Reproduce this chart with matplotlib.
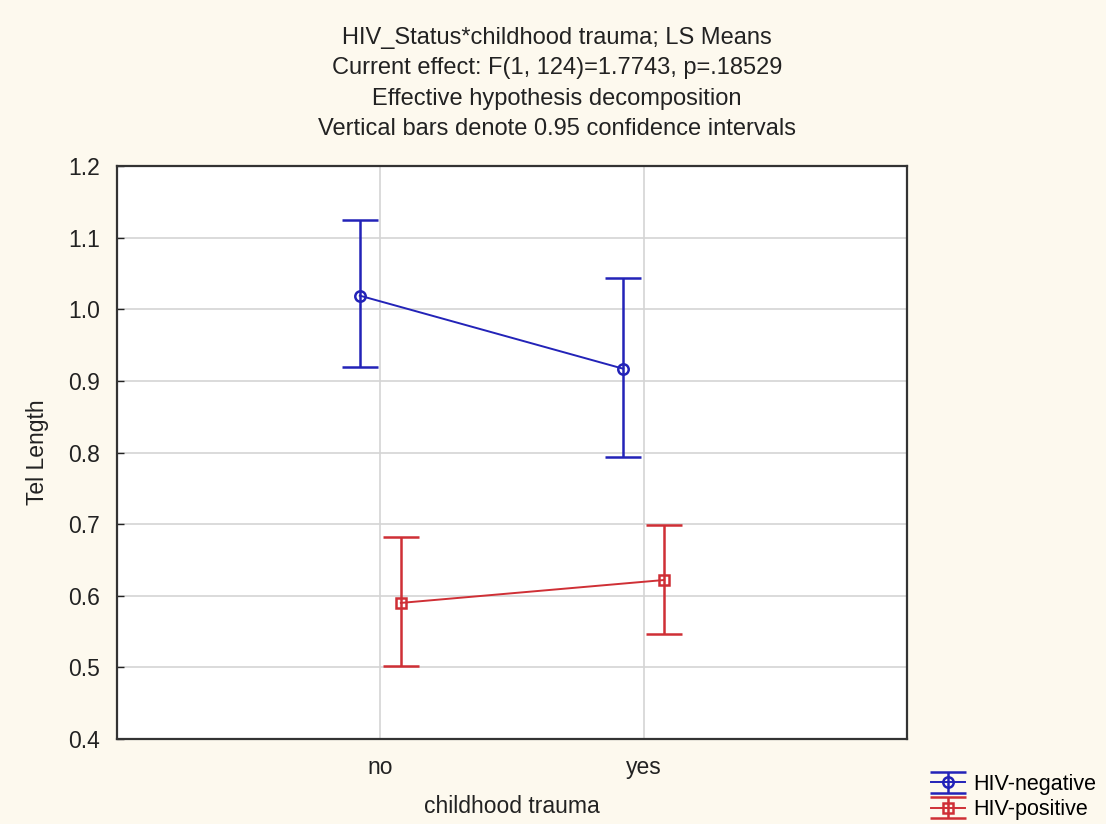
import numpy as np
import matplotlib.pyplot as plt

# data
categories = ['no', 'yes']
groups = ['HIV-negative', 'HIV-positive']
neg_mean = [1.019, 0.917]
neg_lo = [0.920, 0.794]
neg_hi = [1.125, 1.043]
pos_mean = [0.590, 0.622]
pos_lo = [0.502, 0.546]
pos_hi = [0.682, 0.699]
yticks = [0.4, 0.5, 0.6, 0.7, 0.8, 0.9, 1.0, 1.1, 1.2]

title_lines = ['HIV_Status*childhood trauma; LS Means',
               'Current effect: F(1, 124)=1.7743, p=.18529',
               'Effective hypothesis decomposition',
               'Vertical bars denote 0.95 confidence intervals']

bg = '#fdf9ee'
blue = '#2323b8'
red = '#cf2f35'
txt = '#222222'
fs = 16.5

plt.rcParams['font.family'] = ['Liberation Sans', 'DejaVu Sans']

fig = plt.figure(figsize=(11.06, 8.24), dpi=100, facecolor=bg)
ax = fig.add_axes([117 / 1106, 1 - 739 / 824, 790 / 1106, 573 / 824])
ax.set_facecolor('white')

x = np.arange(len(categories))
off = 0.078

m = np.array(neg_mean)
err = [m - np.array(neg_lo), np.array(neg_hi) - m]
ax.errorbar(x - off, m, yerr=err, color=blue, lw=1.4, marker='o', ms=7.5,
            mfc='none', mew=1.8, capsize=13, capthick=1.8, elinewidth=1.8,
            label=groups[0], zorder=3)

m = np.array(pos_mean)
err = [m - np.array(pos_lo), np.array(pos_hi) - m]
ax.errorbar(x + off, m, yerr=err, color=red, lw=1.4, marker='s', ms=7.5,
            mfc='none', mew=1.8, capsize=13, capthick=1.8, elinewidth=1.8,
            label=groups[1], zorder=3)

ax.set_xlim(-1, 2)
ax.set_ylim(0.4, 1.2)
ax.set_xticks(x)
ax.set_xticklabels(categories)
ax.set_yticks(yticks)
ax.set_yticklabels(['%.1f' % v for v in yticks])
ax.grid(True, color='#d4d4d4', lw=1.2)
ax.set_axisbelow(True)
ax.tick_params(axis='both', labelsize=fs, colors=txt, length=5,
               direction='in', width=1, pad=12)
ax.tick_params(axis='x', length=0, pad=12)
for s in ax.spines.values():
    s.set_color('#333333')
    s.set_linewidth(1.6)

ax.set_xlabel('childhood trauma', fontsize=fs, color=txt, labelpad=12)
ax.set_ylabel('Tel Length', fontsize=fs, color=txt, labelpad=14)

for i, line in enumerate(title_lines):
    fig.text(557 / 1106, 1 - (38 + 30.3 * i) / 824, line, ha='center',
             va='center', fontsize=17, color=txt)

leg = fig.legend(loc='lower left', bbox_to_anchor=(918 / 1106, -0.011),
                 frameon=False, fontsize=15.5, handlelength=1.6,
                 handletextpad=0.35, labelspacing=0.2, borderpad=0.1)

fig.savefig('out.png', dpi=100, facecolor=bg)
